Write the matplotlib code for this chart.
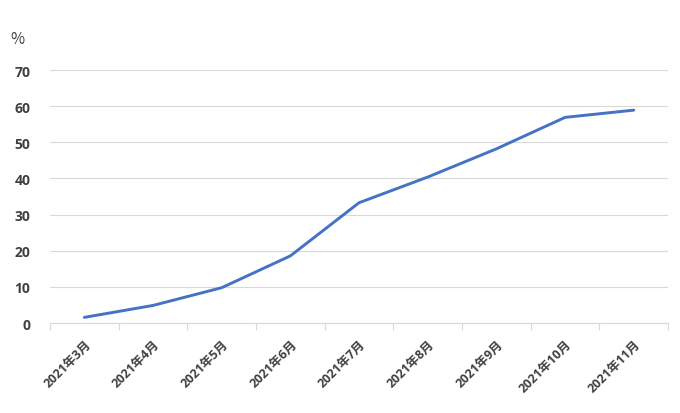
import matplotlib
matplotlib.use('Agg')
import matplotlib.pyplot as plt
import numpy as np

plt.rcParams['font.family'] = ['Open Sans', 'Noto Sans CJK JP', 'DejaVu Sans']

months = ['2021年3月', '2021年4月', '2021年5月', '2021年6月', '2021年7月',
          '2021年8月', '2021年9月', '2021年10月', '2021年11月']
values = [1.6, 4.9, 9.8, 18.6, 33.3, 40.4, 48.2, 56.9, 58.9]
y_ticks = [0, 10, 20, 30, 40, 50, 60, 70]

fig = plt.figure(figsize=(6.8, 4.14), dpi=100)
ax = fig.add_axes([0.0735, 0.217, 0.909, 0.6115])

x = np.arange(len(months))
ax.plot(x, values, color='#4472C4', linewidth=2.1, solid_capstyle='round', zorder=3)

ax.set_xlim(-0.5, len(months) - 0.5)
ax.set_ylim(0, 70)
ax.set_yticks(y_ticks)
ax.set_yticklabels([str(v) for v in y_ticks], fontsize=10, color='#404040', fontweight='bold')
ax.tick_params(axis='y', length=0, pad=14)
ax.grid(axis='y', color='#D9D9D9', linewidth=0.8, zorder=0)

ax.set_xticks(x)
ax.set_xticklabels(months, rotation=45, ha='right', rotation_mode='anchor',
                   fontsize=9, color='#404040', fontweight='bold')
ax.tick_params(axis='x', which='major', length=0, pad=10)
ax.set_xticks(np.arange(len(months) + 1) - 0.5, minor=True)
ax.tick_params(axis='x', which='minor', length=5, color='#D9D9D9', width=0.8)

for s in ['top', 'right', 'left']:
    ax.spines[s].set_visible(False)
ax.spines['bottom'].set_color('#D9D9D9')
ax.spines['bottom'].set_linewidth(0.8)

fig.text(17 / 680, 1 - 40 / 414, '%', fontsize=11, color='#404040',
         family=['Noto Sans CJK JP', 'DejaVu Sans'], ha='center', va='center')

fig.savefig('out.png', dpi=100, facecolor='white')
